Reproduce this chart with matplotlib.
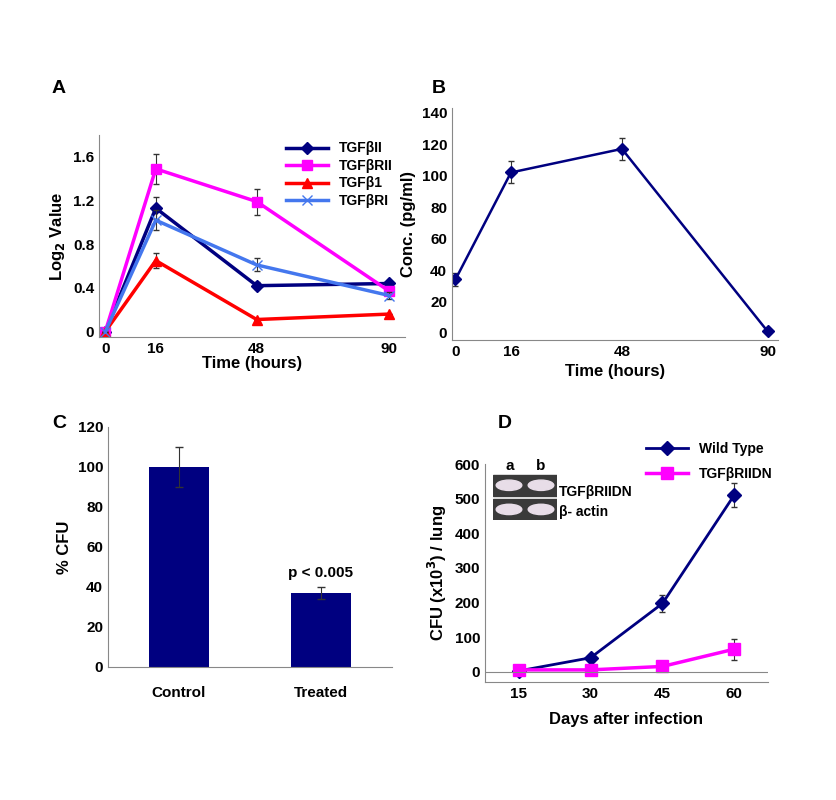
import numpy as np
import matplotlib.pyplot as plt
from matplotlib.patches import Ellipse, Rectangle

plt.rcParams['font.family'] = ['Liberation Sans', 'DejaVu Sans']
plt.rcParams['font.weight'] = 'bold'

# Painel A
tA = [0, 16, 48, 90]
ii = [0.0, 1.13, 0.42, 0.44]
rii = [0.0, 1.49, 1.19, 0.37]
b1 = [0.0, 0.65, 0.11, 0.16]
ri = [0.0, 1.02, 0.61, 0.33]
rii_err = [0, 0.14, 0.12, 0]
ii_err = [0, 0.1, 0.03, 0.02]
b1_err = [0, 0.07, 0, 0]
ri_err = [0, 0.09, 0.06, 0.03]

# Painel B
tB = [0, 16, 48, 90]
conc = [34, 102, 117, 1]
conc_err = [4, 7, 7, 0]

# Painel C
grupos = ['Control', 'Treated']
cfu = [100, 37]
cfu_err = [10, 3]

# Painel D
dias = [15, 30, 45, 60]
wt = [2, 40, 197, 511]
wt_err = [0, 5, 25, 35]
dn = [5, 5, 15, 65]
dn_err = [8, 8, 10, 30]

W, H = 837, 800
fig = plt.figure(figsize=(W / 100, H / 100), dpi=100)

def ax_px(l, t, r, b):
    return fig.add_axes([l / W, 1 - b / H, (r - l) / W, (b - t) / H])

def estilo(ax):
    for s in ['top', 'right']:
        ax.spines[s].set_visible(False)
    for s in ['left', 'bottom']:
        ax.spines[s].set_color('#888888')
    ax.tick_params(length=0, labelsize=11)
    for lab in ax.get_xticklabels() + ax.get_yticklabels():
        lab.set_fontweight('bold')

def serie(ax, x, y, e, cor, mk, ms, lw, nome):
    ax.errorbar(x, y, yerr=e, fmt='none', capsize=2, ecolor='#333333', elinewidth=0.8)
    ax.plot(x, y, color=cor, marker=mk, ms=ms, lw=lw, label=nome)

def legenda(ax, **kw):
    leg = ax.legend(frameon=False, fontsize=10, handlelength=3, **kw)
    for t in leg.get_texts():
        t.set_fontweight('bold')

navy = '#000080'
mag = '#ff00ff'

# A
ax = ax_px(99, 135, 405, 337)
serie(ax, tA, ii, ii_err, navy, 'D', 6, 2.5, 'TGFβII')
serie(ax, tA, rii, rii_err, mag, 's', 7, 2.5, 'TGFβRII')
serie(ax, tA, b1, b1_err, '#ff0000', '^', 7, 2.5, 'TGFβ1')
serie(ax, tA, ri, ri_err, '#4477ee', 'x', 7, 2.5, 'TGFβRI')
ax.set_xlim(-2, 95)
ax.set_ylim(-0.05, 1.8)
ax.set_xticks(tA)
ax.set_yticks([0, 0.4, 0.8, 1.2, 1.6])
ax.set_yticklabels(['0', '0.4', '0.8', '1.2', '1.6'])
ax.set_xlabel('Time (hours)', fontsize=12, fontweight='bold', labelpad=0)
ax.set_ylabel('Log$_2$ Value', fontsize=12, fontweight='bold')
legenda(ax, loc='upper left', bbox_to_anchor=(0.57, 1.03), labelspacing=0.25)
estilo(ax)
fig.text(52 / W, 1 - 93 / H, 'A', fontsize=14, fontweight='bold')

# B
ax = ax_px(452, 108, 778, 340)
serie(ax, tB, conc, conc_err, navy, 'D', 6, 1.8, None)
ax.set_xlim(-1, 93)
ax.set_ylim(-4.5, 143)
ax.set_xticks(tB)
ax.set_yticks(range(0, 141, 20))
ax.set_xlabel('Time (hours)', fontsize=12, fontweight='bold')
ax.set_ylabel('Conc. (pg/ml)', fontsize=12, fontweight='bold')
estilo(ax)
fig.text(432 / W, 1 - 93 / H, 'B', fontsize=14, fontweight='bold')

# C
ax = ax_px(108, 427, 392, 667)
ax.bar([0, 1], cfu, yerr=cfu_err, width=0.42, color=navy, capsize=3,
       error_kw=dict(ecolor='#333333', elinewidth=0.8))
ax.set_xlim(-0.5, 1.5)
ax.set_ylim(0, 120)
ax.set_xticks([0, 1])
ax.set_xticklabels(grupos)
ax.set_yticks(range(0, 121, 20))
ax.set_ylabel('% CFU', fontsize=12, fontweight='bold')
ax.text(1, cfu[1] + cfu_err[1] + 5, 'p < 0.005', ha='center', fontsize=11, fontweight='bold')
estilo(ax)
ax.tick_params(axis='x', pad=14)
fig.text(52 / W, 1 - 428 / H, 'C', fontsize=14, fontweight='bold')

# D
ax = ax_px(485, 464, 768, 682)
serie(ax, dias, wt, wt_err, navy, 'D', 7, 2, 'Wild Type')
serie(ax, dias, dn, dn_err, mag, 's', 9, 2.5, 'TGFβRIIDN')
ax.axhline(0, color='#888888', lw=0.8)
ax.set_xlim(8, 67)
ax.set_ylim(-30, 600)
ax.set_xticks(dias)
ax.set_yticks(range(0, 601, 100))
ax.set_xlabel('Days after infection', fontsize=12, fontweight='bold', labelpad=8)
ax.set_ylabel('CFU (x10$^3$) / lung', fontsize=12, fontweight='bold')
legenda(ax, loc='upper right', bbox_to_anchor=(1.06, 1.16), labelspacing=0.8)
estilo(ax)
fig.text(498 / W, 1 - 428 / H, 'D', fontsize=14, fontweight='bold')

# inserto do gel
gel = ax_px(493, 474, 557, 520)
gel.set_xlim(0, 2)
gel.set_ylim(0, 2)
gel.axis('off')
for y0 in [1.05, 0.0]:
    gel.add_patch(Rectangle((0, y0), 2, 0.92, color='#3a3a3a'))
    for xc in [0.5, 1.5]:
        gel.add_patch(Ellipse((xc, y0 + 0.46), 0.8, 0.45, color='#e8dde8'))
fig.text(510 / W, 1 - 470 / H, 'a', fontsize=11, fontweight='bold', ha='center')
fig.text(541 / W, 1 - 470 / H, 'b', fontsize=11, fontweight='bold', ha='center')
fig.text(559 / W, 1 - 492 / H, 'TGFβRIIDN', fontsize=10, fontweight='bold', va='center')
fig.text(559 / W, 1 - 512 / H, 'β- actin', fontsize=10, fontweight='bold', va='center')

fig.savefig('out.png', dpi=100)
